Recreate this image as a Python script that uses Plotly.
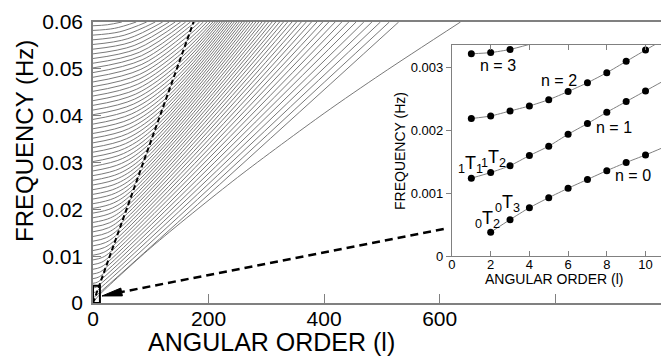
import plotly.graph_objects as go

FONT = "Liberation Sans, Arial, Helvetica, sans-serif"
AXC = "#808080"
LINEC = "#6a6a6a"

# ---------------- main panel: dispersion branches (read estimates) ----------------
# branch n = 1..59 : start frequency at l = 0 (Hz)
ridge_f0 = [0.0012, 0.0022, 0.0032, 0.0042, 0.0052, 0.0062, 0.0072, 0.0082, 0.0092, 0.0102,
            0.0112, 0.0122, 0.0132, 0.0142, 0.0152, 0.0162, 0.0172, 0.0182, 0.0192, 0.0202,
            0.0212, 0.0222, 0.0232, 0.0242, 0.0252, 0.0262, 0.0272, 0.0282, 0.0292, 0.0302,
            0.0312, 0.0322, 0.0332, 0.0342, 0.0352, 0.0362, 0.0372, 0.0382, 0.0392, 0.0402,
            0.0412, 0.0422, 0.0432, 0.0442, 0.0452, 0.0462, 0.0472, 0.0482, 0.0492, 0.0502,
            0.0512, 0.0522, 0.0532, 0.0542, 0.0552, 0.0562, 0.0572, 0.0582, 0.0592]
# a point midway along the curved part
ridge_mid_l = [2.1, 3.9, 5.6, 7.4, 9.1, 10.9, 12.6, 14.4, 16.1, 17.9,
               19.6, 21.4, 23.1, 24.9, 26.7, 28.4, 30.2, 31.9, 33.7, 35.4,
               37.2, 38.9, 40.7, 42.4, 44.2, 45.9, 47.7, 49.4, 51.2, 53.0,
               54.7, 56.5, 58.2, 60.0, 61.7, 63.5, 65.2, 67.0, 68.7, 70.5,
               72.2, 74.0, 75.8, 77.5, 79.3, 81.0, 82.8, 84.5, 86.3, 84.3,
               80.2, 75.9, 71.2, 66.0, 60.3, 53.9, 46.5, 37.4, 25.0]
ridge_mid_f = [0.00127, 0.00233, 0.00338, 0.00444, 0.00550, 0.00655, 0.00761, 0.00867, 0.00972, 0.01078,
               0.01184, 0.01290, 0.01395, 0.01501, 0.01607, 0.01712, 0.01818, 0.01924, 0.02029, 0.02135,
               0.02241, 0.02347, 0.02452, 0.02558, 0.02664, 0.02769, 0.02875, 0.02981, 0.03086, 0.03192,
               0.03298, 0.03404, 0.03509, 0.03615, 0.03721, 0.03826, 0.03932, 0.04038, 0.04143, 0.04249,
               0.04355, 0.04461, 0.04566, 0.04672, 0.04778, 0.04883, 0.04989, 0.05095, 0.05200, 0.05282,
               0.05353, 0.05426, 0.05498, 0.05571, 0.05644, 0.05717, 0.05791, 0.05865, 0.05941]
# where the branch crosses the dashed line (None: branch reaches the top first)
ridge_cross_l = [4.2, 7.7, 11.2, 14.7, 18.2, 21.7, 25.3, 28.8, 32.3, 35.8,
                 39.3, 42.8, 46.3, 49.8, 53.3, 56.8, 60.3, 63.8, 67.3, 70.8,
                 74.3, 77.9, 81.4, 84.9, 88.4, 91.9, 95.4, 98.9, 102.4, 105.9,
                 109.4, 112.9, 116.4, 119.9, 123.4, 127.0, 130.5, 134.0, 137.5, 141.0,
                 144.5, 148.0, 151.5, 155.0, 158.5, 162.0, 165.5, 169.0, 172.5, None,
                 None, None, None, None, None, None, None, None, None]
ridge_cross_f = [0.00145, 0.00266, 0.00387, 0.00508, 0.00629, 0.00750, 0.00871, 0.00992, 0.01113, 0.01234,
                 0.01355, 0.01476, 0.01597, 0.01718, 0.01839, 0.01960, 0.02081, 0.02202, 0.02323, 0.02444,
                 0.02565, 0.02686, 0.02807, 0.02928, 0.03049, 0.03170, 0.03291, 0.03412, 0.03533, 0.03654,
                 0.03775, 0.03896, 0.04017, 0.04138, 0.04259, 0.04380, 0.04501, 0.04622, 0.04743, 0.04864,
                 0.04985, 0.05106, 0.05227, 0.05348, 0.05469, 0.05590, 0.05711, 0.05832, 0.05953, None,
                 None, None, None, None, None, None, None, None, None]
# angular order where each branch leaves the top of the panel (f = 0.06 Hz)
ridge_top_l = [529.0, 512.8, 497.4, 482.7, 468.7, 455.3, 442.6, 430.5, 419.0, 408.0,
               397.6, 387.6, 378.1, 369.1, 360.5, 352.3, 344.4, 336.9, 329.7, 322.9,
               316.3, 310.0, 303.9, 298.1, 292.4, 287.0, 281.8, 276.7, 271.7, 266.9,
               262.2, 257.6, 253.2, 248.8, 244.4, 240.2, 236.0, 231.8, 227.7, 223.6,
               219.5, 215.5, 211.5, 207.4, 202.5, 197.0, 191.0, 184.5, 177.5, 168.5,
               160.4, 151.7, 142.3, 131.9, 120.6, 107.8, 92.9, 74.8, 50.0]
F_TOP = 0.06

# fundamental branch (n = 0)
n0_main_l = [2, 10, 100, 250, 400, 500, 636]
n0_main_f = [0.00038, 0.0016, 0.0118, 0.0268, 0.0405, 0.0490, 0.0600]

# dashed line (grazing the core-mantle boundary)
cmb_l = [0, 174]
cmb_f = [0.0, 0.06]

# ---------------- inset: low-order toroidal modes ----------------
n0_l = [2, 3, 4, 5, 6, 7, 8, 9, 10]
n0_f = [0.00038, 0.00058, 0.00077, 0.00093, 0.00108, 0.00122, 0.00136, 0.00149, 0.00161]
n1_l = [1, 2, 3, 4, 5, 6, 7, 8, 9, 10]
n1_f = [0.00124, 0.00133, 0.00144, 0.00160, 0.00175, 0.00194, 0.00211, 0.00229, 0.00246, 0.00263]
n2_l = [1, 2, 3, 4, 5, 6, 7, 8, 9, 10]
n2_f = [0.00219, 0.00223, 0.00231, 0.00239, 0.00249, 0.00262, 0.00276, 0.00292, 0.00310, 0.00328]
n3_l = [1, 2, 3]
n3_f = [0.00322, 0.00324, 0.00329]
# continuation of each curve to the edge of the inset
n0_ext = (11, 0.00174)
n1_ext = (11, 0.00280)
n2_ext = (11, 0.00346)
n3_ext = (4, 0.00337)

fig = go.Figure()

for i in range(len(ridge_f0)):
    xs = [0, ridge_mid_l[i]]
    ys = [ridge_f0[i], ridge_mid_f[i]]
    if ridge_cross_l[i] is not None:
        xs.append(ridge_cross_l[i])
        ys.append(ridge_cross_f[i])
    xs.append(ridge_top_l[i])
    ys.append(F_TOP)
    fig.add_trace(go.Scatter(x=xs, y=ys, mode="lines",
                             line=dict(color=LINEC, width=0.9, shape="spline", smoothing=1.0),
                             hoverinfo="skip", xaxis="x", yaxis="y"))

fig.add_trace(go.Scatter(x=n0_main_l, y=n0_main_f, mode="lines",
                         line=dict(color=LINEC, width=0.9, shape="spline", smoothing=0.8),
                         xaxis="x", yaxis="y"))
fig.add_trace(go.Scatter(x=cmb_l, y=cmb_f, mode="lines",
                         line=dict(color="black", width=2, dash="5px,3px"),
                         xaxis="x", yaxis="y"))

for ls, fs, ext in [(n0_l, n0_f, n0_ext), (n1_l, n1_f, n1_ext), (n2_l, n2_f, n2_ext), (n3_l, n3_f, n3_ext)]:
    fig.add_trace(go.Scatter(x=ls + [ext[0]], y=fs + [ext[1]], mode="lines",
                             line=dict(color="#808080", width=1, shape="spline", smoothing=0.6),
                             xaxis="x2", yaxis="y2"))
    fig.add_trace(go.Scatter(x=ls, y=fs, mode="markers",
                             marker=dict(color="black", size=7),
                             xaxis="x2", yaxis="y2"))

fig.update_layout(
    width=661, height=356,
    margin=dict(l=93, r=0, t=22, b=53, autoexpand=False),
    paper_bgcolor="white", plot_bgcolor="white",
    showlegend=False,
    font=dict(family=FONT, color="black"),
    xaxis=dict(domain=[0, 1], range=[0, 983], tickvals=[0, 200, 400, 600, 800],
               ticktext=["0", "200", "400", "600", " "], ticks="inside", ticklen=9,
               tickcolor=AXC, tickwidth=1.2, showline=True, linecolor=AXC, linewidth=1.6,
               mirror=True, showgrid=False, zeroline=False, tickfont=dict(size=21),
               ticklabelstandoff=-4, anchor="y"),
    yaxis=dict(domain=[0, 1], range=[0, 0.06], tickvals=[0, 0.01, 0.02, 0.03, 0.04, 0.05, 0.06],
               ticktext=["0", "0.01", "0.02", "0.03", "0.04", "0.05", "0.06"],
               ticks="inside", ticklen=8, tickcolor=AXC, tickwidth=1.2,
               showline=True, linecolor=AXC, linewidth=1.6, showgrid=False, zeroline=False,
               tickfont=dict(size=21), ticklabelstandoff=4, anchor="x"),
    xaxis2=dict(domain=[0.632, 1.0], range=[0, 10.8], tickvals=[0, 2, 4, 6, 8, 10],
                ticks="inside", ticklen=5, tickcolor=AXC, showline=True, linecolor=AXC,
                linewidth=1.3, mirror="ticks", showgrid=False, zeroline=False,
                tickfont=dict(size=13), ticklabelstandoff=-4, anchor="y2"),
    yaxis2=dict(domain=[0.167, 0.918], range=[0, 0.00336], tickvals=[0, 0.001, 0.002, 0.003],
                ticktext=["0", "0.001", "0.002", "0.003"], ticks="outside", ticklen=5,
                tickcolor=AXC, showline=True, linecolor=AXC, linewidth=1.3,
                showgrid=False, zeroline=False, tickfont=dict(size=13), anchor="x2"),
)

# zoom box, dashed arrow
fig.add_shape(type="rect", xref="x", yref="y", x0=0, x1=12, y0=0, y1=0.0037,
              line=dict(color="black", width=2))
fig.add_shape(type="line", xref="x", yref="y", x0=607, y0=0.0158, x1=49.5, y1=0.00235,
              line=dict(color="black", width=2.5, dash="8px,5px"))
fig.add_shape(type="path", xref="x", yref="y", xsizemode="pixel", ysizemode="pixel",
              xanchor=15.6, yanchor=0.0015, path="M0,0 L20.4,0.1 L18.8,7.9 Z",
              fillcolor="black", line=dict(color="black", width=1))

ann = [
    dict(text="FREQUENCY (Hz)", xref="paper", yref="paper", x=-0.1215, y=0.5765,
         textangle=-90, font=dict(size=24)),
    dict(text="ANGULAR ORDER (l)", xref="paper", yref="paper", x=0.315, y=-0.138,
         font=dict(size=25)),
    dict(text="ANGULAR ORDER (l)", xref="paper", yref="paper", x=0.811, y=0.087,
         font=dict(size=14)),
    dict(text="FREQUENCY (Hz)", xref="paper", yref="paper", x=0.5405, y=0.541,
         textangle=-90, font=dict(size=14)),
    dict(text="n = 3", xref="x2", yref="y2", x=2.38, y=0.00304, font=dict(size=16)),
    dict(text="n = 2", xref="x2", yref="y2", x=5.53, y=0.00279, font=dict(size=16)),
    dict(text="n = 1", xref="x2", yref="y2", x=8.37, y=0.00204, font=dict(size=16)),
    dict(text="n = 0", xref="x2", yref="y2", x=9.35, y=0.00129, font=dict(size=16)),
    dict(text="<sub>1</sub>T<sub>1</sub>", xref="x2", yref="y2", x=0.95, y=0.00146, font=dict(size=18)),
    dict(text="<sub>1</sub>T<sub>2</sub>", xref="x2", yref="y2", x=2.15, y=0.00155, font=dict(size=18)),
    dict(text="<sub>0</sub>T<sub>2</sub>", xref="x2", yref="y2", x=1.81, y=0.00059, font=dict(size=18)),
    dict(text="<sub>0</sub>T<sub>3</sub>", xref="x2", yref="y2", x=2.87, y=0.00083, font=dict(size=18)),
]
for a in ann:
    fig.add_annotation(showarrow=False, xanchor="center", yanchor="middle", **a)

fig.write_html("out.html", config={"displayModeBar": False},
               post_script="document.body.style.margin='0px';")
